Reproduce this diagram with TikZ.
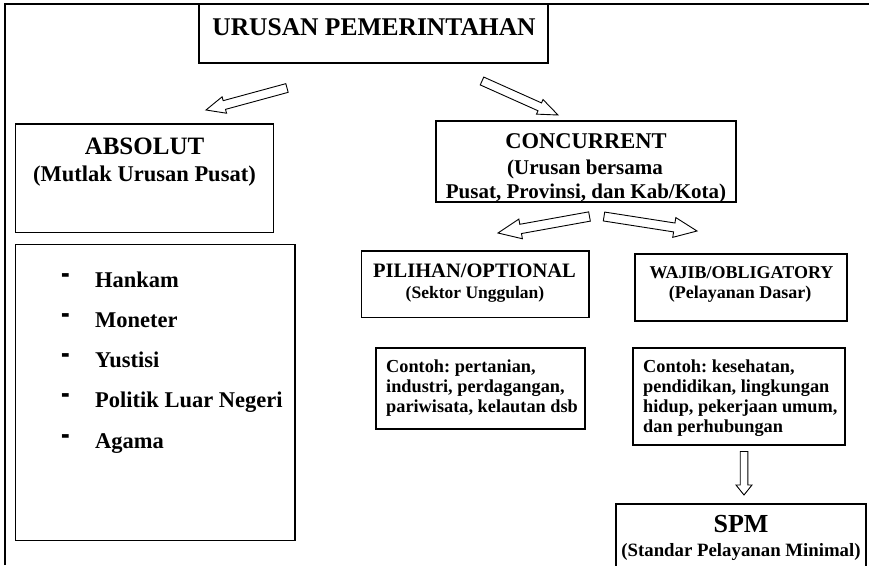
\documentclass[tikz,border=0pt]{standalone}
\usepackage{fontspec}
\setmainfont{Liberation Serif}
\usetikzlibrary{calc}
\frenchspacing
\newcommand{\blockarr}[5]{%
  \coordinate (hb) at ($(#2)!#5!(#1)$);
  \draw[arrowline] ($(#1)!#3!90:(#2)$) -- ($(hb)!#3!90:(#2)$) -- ($(hb)!#4!90:(#2)$) -- (#2)
    -- ($(hb)!#4!-90:(#2)$) -- ($(hb)!#3!-90:(#2)$) -- ($(#1)!#3!-90:(#2)$) -- cycle;}
\tikzset{
  box/.style={draw, line width=1.2pt, rectangle, inner sep=0pt},
  arrowline/.style={draw, line width=0.9pt, line join=miter, fill=white},
  tbig/.style={font=\fontsize{25.5}{30}\selectfont\bfseries, inner sep=0pt},
  tmid/.style={font=\fontsize{22.5}{27}\selectfont\bfseries, inner sep=0pt},
  tsub/.style={font=\fontsize{21}{25}\selectfont\bfseries, inner sep=0pt},
  tpil/.style={font=\fontsize{20.5}{24}\selectfont\bfseries, inner sep=0pt},
  tsmall/.style={font=\fontsize{18}{21}\selectfont\bfseries, inner sep=0pt},
  tlist/.style={font=\fontsize{18.3}{19.7}\selectfont\bfseries\frenchspacing, inner sep=0pt, align=left, anchor=north west},
}
\begin{document}
\begin{tikzpicture}[x=1pt, y=-1pt]
\clip (0,0) rectangle (869,565);
\fill[white] (0,0) rectangle (869,565);
% frame
\draw[line width=1.8pt] (5,565) -- (5,4) -- (869,4);

% boxes
\node[box, minimum width=349pt, minimum height=59pt] (title) at (373.5,33.5) {};
\node[box, minimum width=257.6pt, minimum height=108.7pt] (absolut) at (144.5,178.35) {};
\node[box, minimum width=279.3pt, minimum height=296.4pt] (list) at (155.35,392.5) {};
\node[box, minimum width=300pt, minimum height=81pt] (concurrent) at (586,161.5) {};
\node[box, minimum width=227.3pt, minimum height=66.3pt] (pilihan) at (475.35,284.15) {};
\node[box, minimum width=212pt, minimum height=67pt] (wajib) at (741,287.5) {};
\node[box, minimum width=209pt, minimum height=81pt] (contohL) at (480.5,388.5) {};
\node[box, minimum width=212pt, minimum height=97pt] (contohR) at (739,396.5) {};
\node[box, minimum width=250pt, minimum height=96pt] (spm) at (741,552) {};

% texts
\node[tbig, anchor=base] (ttitle) at (374,35) {URUSAN PEMERINTAHAN};
\node[tbig, font=\fontsize{25}{30}\selectfont\bfseries, anchor=base] (tabs) at (144.5,154) {ABSOLUT};
\node[tmid, anchor=base] (tabs2) at (144.5,181) {(Mutlak Urusan Pusat)};

\foreach \y/\t [count=\i] in {287/Hankam, 327/Moneter, 367/Yustisi, 407/Politik Luar Negeri, 448/Agama}{
  \node[tmid, anchor=base] (dash\i) at (66,\y) {\raisebox{2pt}{\scalebox{1.15}[1.9]{-}}};
  \node[tmid, anchor=base west] (item\i) at (95,\y) {\t};
}

\node[tmid, anchor=base] (tconc) at (586,148.5) {CONCURRENT};
\node[tsub, anchor=base] (tconc2) at (585,174) {(Urusan bersama};
\node[tsub, anchor=base] (tconc3) at (586,198) {Pusat, Provinsi, dan Kab/Kota)};

\node[tpil, anchor=base] (tpil) at (474.5,277.5) {PILIHAN/OPTIONAL};
\node[tsmall, font=\fontsize{17.5}{21}\selectfont\bfseries, anchor=base] (tpil2) at (475,298) {(Sektor Unggulan)};

\node[tsmall, anchor=base] (twaj) at (741.5,278) {WAJIB/OBLIGATORY};
\node[tsmall, anchor=base] (twaj2) at (740,298) {(Pelayanan Dasar)};

\node[tlist] (tcl) at (386,360) {Contoh: pertanian,\\industri, perdagangan,\\pariwisata, kelautan dsb};
\node[tlist] (tcr) at (643,360) {Contoh: kesehatan,\\pendidikan, lingkungan\\hidup, pekerjaan umum,\\dan perhubungan};

\node[tbig, font=\fontsize{26}{30}\selectfont\bfseries, anchor=base] (tspm) at (741,532) {SPM};
\node[tsmall, font=\fontsize{18.8}{22}\selectfont\bfseries, anchor=base] (tspm2) at (741,556) {(Standar Pelayanan Minimal)};

% block arrows
\coordinate (a1t) at (287,88);   \coordinate (a1h) at (206,110);
\coordinate (a2t) at (482,81);   \coordinate (a2h) at (558,115);
\coordinate (a3t) at (589.5,216.5); \coordinate (a3h) at (498,233);
\coordinate (a4t) at (604,216.5);   \coordinate (a4h) at (697,231);
\coordinate (a5t) at (744,451.5);   \coordinate (a5h) at (744,495);
\blockarr{a1t}{a1h}{4.5pt}{8.5pt}{19pt}
\blockarr{a2t}{a2h}{4.3pt}{8pt}{20pt}
\blockarr{a3t}{a3h}{4.7pt}{10pt}{23pt}
\blockarr{a4t}{a4h}{4.5pt}{10pt}{23pt}
\blockarr{a5t}{a5h}{3.8pt}{8pt}{10pt}
\end{tikzpicture}
\end{document}
